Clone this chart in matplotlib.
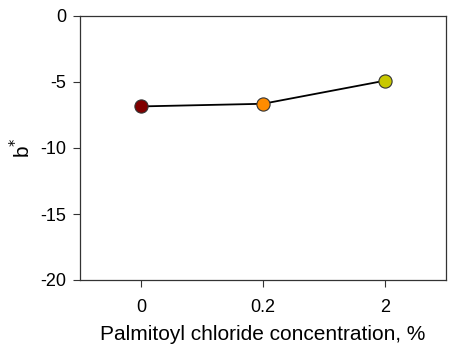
import matplotlib
matplotlib.use("Agg")
import matplotlib.pyplot as plt

categories = ["0", "0.2", "2"]
b_values = [-6.85, -6.65, -4.9]
point_colors = ["#800000", "#FF8C00", "#C8C800"]

plt.rcParams['font.family'] = ['Liberation Sans', 'DejaVu Sans']
plt.rcParams['axes.unicode_minus'] = False

fig = plt.figure(figsize=(4.56, 3.55), dpi=100)
ax = fig.add_axes([80/456, 1-280/355, (446-80)/456, (280-16)/355])

x = list(range(len(categories)))
ax.plot(x, b_values, color='black', lw=1.3, zorder=2)
for xi, yi, c in zip(x, b_values, point_colors):
    ax.plot(xi, yi, 'o', ms=9.5, mfc=c, mec='#333333', mew=0.8, zorder=3)

ax.set_xlim(-0.5, 2.5)
ax.set_ylim(-20, 0)
ax.set_yticks([0, -5, -10, -15, -20])
ax.set_xticks(x)
ax.set_xticklabels(categories)
ax.tick_params(labelsize=13, direction='out', length=5, width=0.8, colors='#333333', labelcolor='black')
ax.tick_params(axis='x', pad=9)
ax.tick_params(axis='y', pad=5)
for s in ax.spines.values():
    s.set_linewidth(0.9)
    s.set_color('#333333')

ax.set_xlabel('Palmitoyl chloride concentration, %', fontsize=15, labelpad=6)
ax.set_ylabel(r'b$^{*}$', fontsize=15, labelpad=4)

fig.savefig('out.png', dpi=100)
